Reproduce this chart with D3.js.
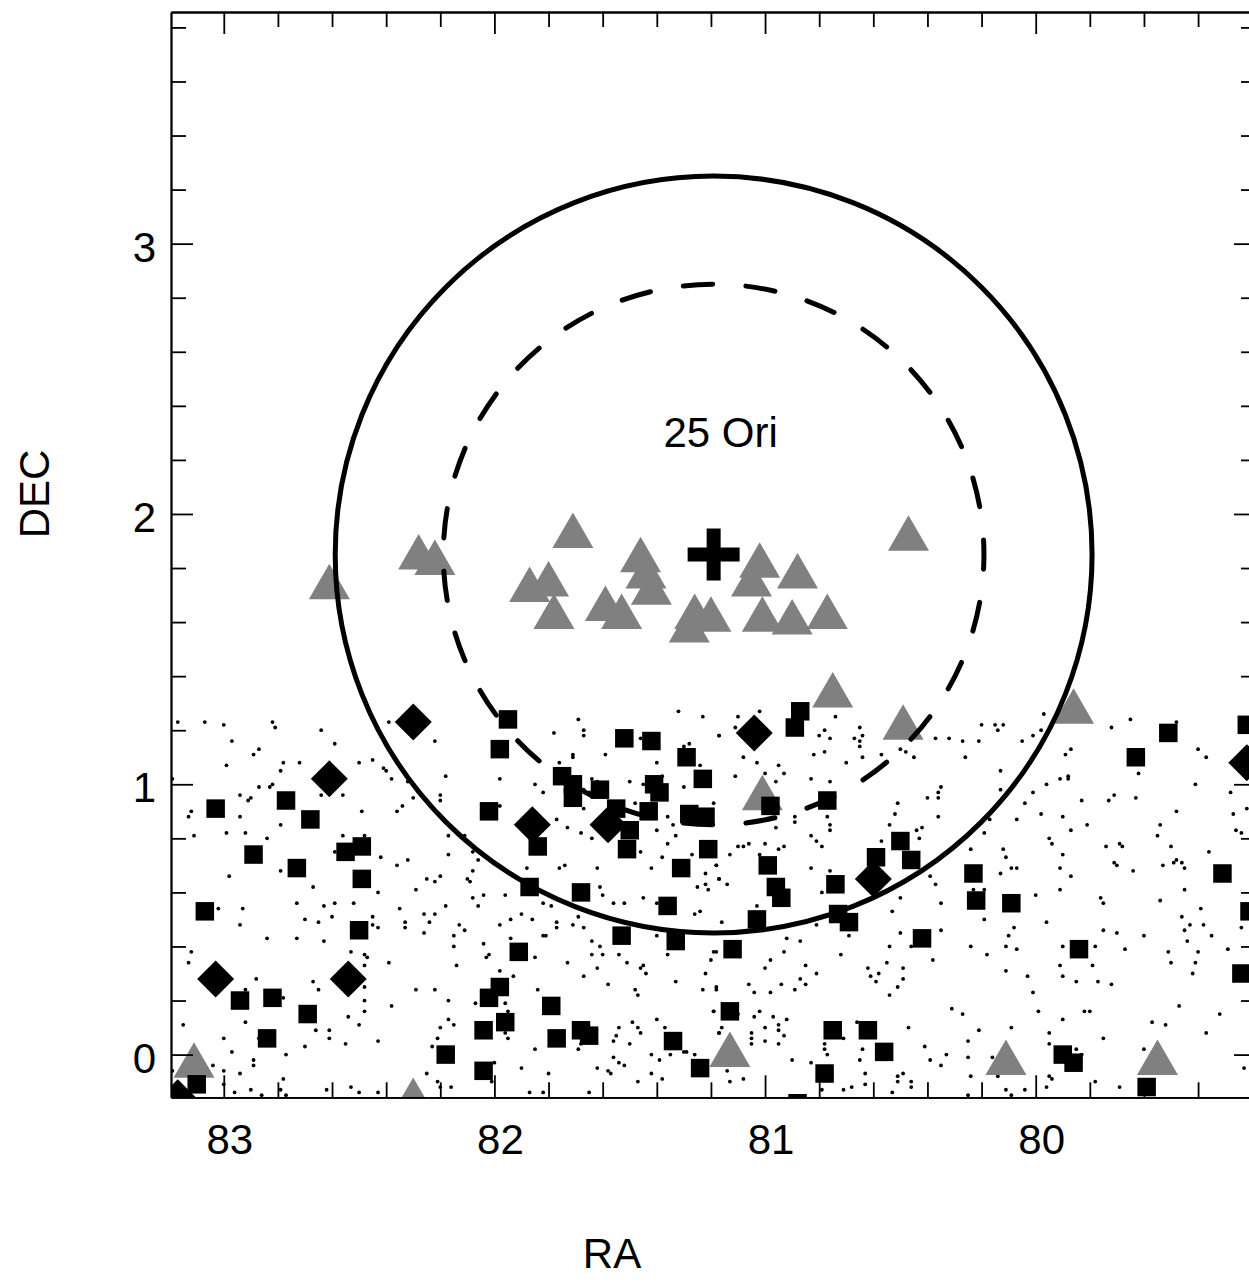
<!DOCTYPE html>
<html><head><meta charset="utf-8">
<script src="https://cdn.jsdelivr.net/npm/d3@7"></script>
<style>body{margin:0;background:#fff} text{font-family:"Liberation Sans",Arial,Helvetica,sans-serif;fill:#000}</style>
</head><body><svg id="c" width="1249" height="1286"></svg>
<script>
// ---- data (RA deg, DEC deg) ----
const xTickLabels = [83, 82, 81, 80];
const yTickLabels = [0, 1, 2, 3];
const xTitle = "RA";
const yTitle = "DEC";
const clusterName = "25 Ori";
const clusterCenter = [81.19, 1.85];
const circleRadii = [1.40, 1.00]; // solid, dashed (deg)

const dots = [
[83.17,1.23],[83.07,1.23],[83.00,1.22],[82.82,1.23],[82.81,1.21],[82.64,1.20],[82.97,1.16],[82.59,1.15],[82.87,1.13],[82.89,1.11],[82.99,1.07],[82.78,1.08],[82.72,1.08],[82.79,1.05],[82.50,1.08],[82.45,1.09],[82.41,1.06],[82.40,1.05],[82.38,1.02],[82.22,1.16],[82.18,1.03],[82.39,1.23],[82.32,1.01],[83.19,1.02],[82.87,0.99],[82.83,0.99],[82.82,1.00],[82.94,0.96],[82.90,0.95],[82.91,0.94],[82.64,0.96],[82.56,0.96],[83.12,0.90],[83.13,0.88],[82.94,0.88],[82.79,0.85],[82.49,0.90],[82.30,0.95],[82.34,0.92],[82.36,0.90],[82.20,0.96],[82.20,0.94],[82.99,0.82],[82.92,0.82],[83.11,0.81],[82.84,0.80],[82.56,0.81],[82.48,0.81],[82.17,0.81],[82.42,0.73],[82.36,0.70],[82.32,0.72],[82.17,0.74],[82.59,0.75],[82.98,0.66],[82.79,0.68],[82.67,0.62],[82.43,0.60],[82.29,0.61],[82.25,0.65],[82.22,0.64],[82.20,0.66],[82.73,0.56],[82.63,0.55],[82.59,0.56],[82.52,0.56],[83.02,0.54],[82.93,0.54],[82.35,0.54],[82.18,0.55],[82.70,0.50],[82.65,0.49],[82.60,0.51],[82.45,0.51],[82.45,0.48],[82.43,0.47],[82.33,0.49],[82.33,0.47],[82.26,0.52],[82.22,0.52],[82.24,0.49],[82.94,0.48],[82.84,0.43],[82.73,0.43],[82.63,0.42],[82.26,0.45],[83.12,0.38],[83.13,0.34],[82.53,0.38],[82.48,0.37],[82.47,0.36],[82.48,0.33],[82.39,0.34],[82.88,0.28],[82.92,0.24],[82.67,0.27],[82.65,0.24],[82.48,0.25],[82.48,0.20],[82.48,0.16],[82.29,0.24],[82.22,0.24],[82.17,0.20],[82.38,0.18],[83.15,0.11],[82.92,0.12],[82.78,0.21],[82.54,0.14],[82.50,0.11],[82.17,0.13],[82.20,0.10],[82.66,0.09],[82.61,0.09],[82.61,0.06],[83.00,0.06],[82.97,0.01],[82.87,0.06],[82.70,0.03],[82.55,0.04],[82.43,0.05],[82.21,0.06],[82.23,0.03],[82.77,0.00],[82.89,-0.02],[82.89,-0.04],[83.04,-0.04],[83.00,-0.06],[82.94,-0.07],[83.19,-0.06],[82.78,-0.09],[83.00,-0.11],[82.96,-0.14],[82.90,-0.13],[82.86,-0.15],[82.79,-0.13],[82.77,-0.15],[82.62,-0.13],[82.53,-0.12],[82.50,-0.14],[82.43,-0.14],[82.25,-0.07],[82.21,-0.10],[82.20,-0.12],[82.16,-0.12],
[81.69,1.24],[81.67,1.20],[81.67,1.18],[81.78,1.19],[81.59,1.11],[81.71,1.11],[81.71,1.10],[81.76,1.08],[81.32,1.27],[81.23,1.25],[81.17,1.18],[81.46,1.17],[81.30,1.14],[81.28,1.15],[81.40,1.08],[81.24,1.07],[81.98,1.02],[81.85,1.00],[81.82,0.97],[81.64,1.02],[81.62,1.01],[81.50,1.01],[81.45,1.00],[81.38,1.03],[81.30,0.99],[81.67,0.98],[81.65,0.97],[81.67,0.91],[81.19,0.93],[81.48,0.93],[81.98,0.92],[81.77,0.87],[81.73,0.84],[81.68,0.82],[81.64,0.80],[81.40,0.83],[81.36,0.88],[81.34,0.85],[81.33,0.81],[81.46,0.75],[81.36,0.78],[81.38,0.73],[81.27,0.74],[81.18,0.70],[81.17,0.65],[81.22,0.67],[82.11,0.81],[82.08,0.75],[82.06,0.72],[82.08,0.68],[82.10,0.65],[82.09,0.64],[81.96,0.59],[82.04,0.59],[82.08,0.58],[82.06,0.55],[81.88,0.69],[81.76,0.69],[81.74,0.70],[81.62,0.69],[81.42,0.69],[81.61,0.62],[81.60,0.59],[81.56,0.56],[81.52,0.56],[81.45,0.58],[81.40,0.56],[81.25,0.62],[81.22,0.63],[81.21,0.61],[81.26,0.52],[81.24,0.53],[81.82,0.56],[81.79,0.55],[81.90,0.52],[81.86,0.50],[81.94,0.50],[81.98,0.48],[81.77,0.49],[81.77,0.47],[81.71,0.48],[81.67,0.47],[81.69,0.51],[82.13,0.48],[82.11,0.46],[82.15,0.44],[82.15,0.40],[82.04,0.41],[81.94,0.43],[81.82,0.44],[81.81,0.44],[82.02,0.37],[82.03,0.36],[81.85,0.36],[81.73,0.34],[81.64,0.42],[81.61,0.40],[81.64,0.37],[81.60,0.37],[81.54,0.37],[81.51,0.34],[81.40,0.44],[81.36,0.37],[81.20,0.35],[81.18,0.38],[81.22,0.30],[81.62,0.32],[81.67,0.29],[81.46,0.32],[81.45,0.33],[81.44,0.30],[81.98,0.31],[81.93,0.29],[82.14,0.33],[81.84,0.24],[81.58,0.26],[81.48,0.24],[81.47,0.22],[81.33,0.27],[81.23,0.24],[81.18,0.25],[82.07,0.19],[81.96,0.19],[81.95,0.16],[81.19,0.16],[82.15,0.11],[81.96,0.08],[81.95,0.06],[81.68,0.04],[81.69,0.02],[81.85,0.02],[81.54,0.10],[81.49,0.12],[81.47,0.10],[81.46,0.08],[81.56,0.05],[81.55,0.07],[81.50,0.04],[81.40,0.13],[81.37,0.10],[81.17,0.08],[81.42,0.00],[81.39,-0.02],[81.35,0.00],[81.30,0.01],[81.29,0.01],[81.26,0.00],[81.56,-0.01],[81.54,-0.03],[81.52,-0.04],[81.62,-0.05],[81.58,-0.06],[81.57,-0.07],[81.90,-0.05],[81.80,-0.07],[82.00,-0.03],[82.01,-0.10],[81.47,-0.10],[81.42,-0.07],[81.38,-0.09],[81.87,-0.14],[81.82,-0.14],[81.65,-0.14],
[81.10,1.25],[81.02,1.27],[81.11,1.21],[81.17,1.18],[80.74,1.25],[80.80,1.18],[80.78,1.20],[80.76,1.17],[80.65,1.21],[80.64,1.18],[80.67,1.17],[80.65,1.14],[80.65,1.16],[80.64,1.10],[80.78,1.12],[80.82,1.11],[81.08,1.10],[81.03,1.08],[80.95,1.07],[80.93,1.04],[80.96,1.01],[81.00,1.04],[81.11,1.03],[80.83,1.02],[80.76,1.01],[80.70,1.08],[80.57,1.11],[80.50,1.13],[80.48,1.12],[80.45,1.10],[80.37,1.17],[80.32,1.17],[80.27,1.16],[80.21,1.16],[80.20,1.22],[80.26,1.10],[80.35,0.99],[80.36,0.97],[80.40,0.95],[80.36,0.95],[80.36,0.88],[80.51,0.93],[80.52,0.89],[80.54,0.85],[80.44,0.83],[80.42,0.84],[80.43,0.80],[80.57,0.79],[80.77,0.88],[80.76,0.85],[80.76,0.83],[80.89,0.88],[80.89,0.86],[80.96,0.84],[80.83,0.81],[80.81,0.79],[80.79,0.77],[81.10,0.77],[81.08,0.77],[81.06,0.78],[81.13,0.74],[81.00,0.78],[80.95,0.76],[80.93,0.77],[81.02,0.74],[81.18,0.70],[81.17,0.65],[81.14,0.63],[80.83,0.69],[80.76,0.68],[80.79,0.60],[81.03,0.55],[81.16,0.49],[80.81,0.48],[80.50,0.58],[80.53,0.53],[80.39,0.66],[80.37,0.63],[80.35,0.56],[80.19,0.82],[80.24,0.76],[80.23,0.61],[80.19,0.61],[80.19,0.50],[80.35,0.46],[80.50,0.45],[80.54,0.40],[80.46,0.40],[80.24,0.40],[80.18,0.37],[80.38,0.35],[80.69,0.44],[80.92,0.43],[80.87,0.42],[80.93,0.38],[81.19,0.38],[80.98,0.35],[81.00,0.32],[80.85,0.33],[80.81,0.30],[80.72,0.37],[80.62,0.32],[80.61,0.29],[80.59,0.27],[80.58,0.30],[80.55,0.34],[80.49,0.32],[80.49,0.28],[80.51,0.25],[80.54,0.22],[80.87,0.28],[80.85,0.26],[80.89,0.24],[80.94,0.26],[80.98,0.23],[81.04,0.23],[81.06,0.26],[81.18,0.24],[81.19,0.16],[81.10,0.15],[81.04,0.14],[81.02,0.16],[80.97,0.14],[80.95,0.11],[80.92,0.13],[80.93,0.07],[80.95,0.09],[81.00,0.10],[81.00,0.05],[80.95,0.04],[81.05,0.08],[81.05,0.06],[81.05,0.04],[81.17,0.08],[81.16,0.10],[80.90,-0.02],[80.83,-0.03],[80.78,0.04],[80.78,0.02],[80.77,0.00],[80.71,0.06],[80.66,0.12],[80.64,0.02],[80.65,-0.02],[80.63,-0.07],[80.63,-0.11],[80.68,-0.12],[80.71,-0.13],[80.79,-0.13],[81.14,-0.06],[81.13,-0.10],[81.08,-0.09],[80.51,-0.08],[80.49,-0.07],[80.51,-0.10],[80.46,-0.10],[80.46,-0.12],[80.53,-0.14],[80.47,0.10],[80.41,0.03],[80.39,-0.02],[80.35,-0.04],[80.33,0.00],[80.31,0.17],[80.27,0.15],[80.21,0.09],[80.25,0.05],[80.25,-0.01],[80.24,-0.08],[80.25,-0.15],
[80.15,1.22],[80.14,1.20],[80.12,1.22],[79.97,1.26],[80.05,1.16],[80.01,1.18],[79.98,1.20],[80.13,1.05],[80.13,0.98],[80.04,0.93],[80.01,0.97],[80.07,0.87],[80.17,0.87],[79.98,0.89],[79.90,0.88],[79.87,1.13],[79.89,1.11],[79.91,1.02],[79.88,1.03],[79.88,1.02],[79.96,1.00],[79.83,0.94],[79.73,0.94],[79.71,0.96],[79.63,0.95],[79.72,1.21],[79.65,1.24],[79.48,1.23],[79.62,1.04],[79.40,1.13],[79.37,1.10],[79.41,1.00],[79.28,0.97],[79.48,0.90],[79.27,0.89],[79.22,0.91],[79.26,0.83],[79.24,0.82],[79.87,0.83],[79.81,0.85],[79.95,0.80],[79.94,0.78],[79.90,0.74],[79.91,0.69],[79.87,0.66],[79.74,0.77],[79.69,0.78],[79.68,0.77],[79.71,0.71],[79.70,0.70],[79.64,0.68],[79.54,0.85],[79.55,0.81],[79.50,0.77],[79.48,0.72],[79.49,0.71],[79.46,0.71],[79.45,0.69],[79.53,0.70],[79.36,0.75],[80.12,0.76],[80.11,0.73],[80.09,0.69],[80.07,0.69],[80.13,0.67],[80.00,0.59],[79.91,0.61],[79.76,0.58],[79.75,0.56],[79.45,0.61],[79.54,0.57],[79.39,0.54],[79.46,0.51],[79.45,0.46],[79.43,0.48],[79.38,0.48],[79.35,0.44],[79.44,0.42],[79.40,0.38],[79.41,0.34],[79.42,0.30],[79.29,0.39],[79.24,0.47],[79.50,0.34],[79.51,0.38],[79.60,0.44],[79.67,0.39],[79.70,0.45],[79.75,0.46],[79.78,0.40],[79.79,0.33],[79.77,0.27],[79.72,0.26],[79.85,0.27],[79.90,0.29],[79.91,0.33],[79.90,0.40],[79.96,0.49],[80.08,0.47],[80.10,0.44],[80.11,0.40],[80.07,0.39],[80.11,0.31],[80.03,0.29],[80.01,0.23],[79.99,0.16],[79.90,0.13],[79.82,0.16],[79.80,0.16],[79.75,0.06],[79.95,0.08],[79.95,0.04],[80.09,0.10],[80.16,-0.01],[79.85,0.02],[79.83,0.00],[79.95,-0.08],[79.94,-0.09],[79.96,-0.12],[79.78,-0.10],[79.69,-0.12],[79.60,0.02],[79.57,0.12],[79.52,0.11],[79.47,0.18],[79.32,0.15],[79.37,0.08],[80.11,-0.13],[80.09,-0.15],[80.04,-0.13],[79.23,-0.05],[80.14,-0.08]
];

const squares = [
[83.03,0.91],[82.77,0.94],[82.68,0.87],[82.89,0.74],[82.55,0.75],[82.49,0.77],[82.73,0.69],[82.49,0.65],[83.07,0.53],[82.50,0.46],[82.94,0.20],[82.82,0.21],[82.69,0.15],[82.84,0.06],[83.10,-0.11],
[81.95,1.24],[81.98,1.13],[81.52,1.17],[81.42,1.16],[81.29,1.10],[81.23,1.02],[81.75,1.03],[81.71,1.00],[81.71,0.95],[81.61,0.98],[81.41,1.00],[81.39,0.97],[81.55,0.91],[81.50,0.83],[81.43,0.90],[81.51,0.76],[82.02,0.90],[81.84,0.77],[81.28,0.89],[81.22,0.88],[81.21,0.76],[81.31,0.69],[81.87,0.62],[81.68,0.60],[81.36,0.55],[81.53,0.44],[81.33,0.42],[81.91,0.38],[81.98,0.25],[82.02,0.21],[81.79,0.18],[81.96,0.12],[82.04,0.09],[81.77,0.06],[81.68,0.09],[81.65,0.07],[81.34,0.05],[82.18,0.00],[82.04,-0.06],[81.24,-0.05],
[80.87,1.27],[80.89,1.21],[80.98,0.92],[80.77,0.94],[80.99,0.70],[80.96,0.62],[80.94,0.58],[80.74,0.63],[80.59,0.73],[80.50,0.79],[80.46,0.72],[81.03,0.50],[80.73,0.52],[80.69,0.49],[81.12,0.39],[80.42,0.43],[80.23,0.67],[80.22,0.57],[81.13,0.16],[80.75,0.09],[80.62,0.09],[80.56,0.01],[80.78,-0.07],[80.88,-0.18],
[79.51,1.19],[79.63,1.10],[79.22,1.22],[79.31,0.67],[80.09,0.56],[79.84,0.39],[79.21,0.53],[79.24,0.30],[79.90,0.00],[79.86,-0.03],[79.59,-0.12]
];

const diamonds = [
[82.30,1.23],[82.61,1.02],[83.03,0.28],[82.54,0.28],[83.17,-0.16],[81.86,0.85],[81.58,0.85],[81.04,1.19],[80.60,0.65],[79.22,1.08]
];

const triangles = [
[82.61,1.75],[82.28,1.86],[82.22,1.84],[81.71,1.94],[81.87,1.74],[81.80,1.76],[81.78,1.64],[81.59,1.67],[81.53,1.64],[81.46,1.85],[81.44,1.79],[81.42,1.73],[81.26,1.64],[81.28,1.59],[81.20,1.63],[81.02,1.83],[81.05,1.76],[80.88,1.79],[81.01,1.63],[80.90,1.62],[80.77,1.64],[80.75,1.35],[80.47,1.93],[80.49,1.23],[79.86,1.29],[81.01,0.97],[83.11,-0.02],[82.30,-0.15],[81.13,0.02],[80.11,-0.01],[79.55,-0.01]
];

// ---- layout ----
const svg = d3.select("#c");
svg.append("rect").attr("width",1249).attr("height",1286).attr("fill","#fff");
const L=171, R=1256, T=12, B=1097.3;
const x = d3.scaleLinear().domain([83.195, 79.186]).range([L, R]);
const y = d3.scaleLinear().domain([-0.158, 3.857]).range([B, T]);

svg.append("defs").append("clipPath").attr("id","clip")
  .append("rect").attr("x",L).attr("y",T).attr("width",R-L).attr("height",B-T);
const g = svg.append("g").attr("clip-path","url(#clip)");

// dots
g.append("g").selectAll("circle").data(dots).join("circle")
  .attr("cx",d=>x(d[0])).attr("cy",d=>y(d[1])).attr("r",1.9).attr("fill","#000");

// triangles (grey)
const triSide=41, triH=35.5;
g.append("g").selectAll("path").data(triangles).join("path")
  .attr("d",d=>{const cx=x(d[0]),cy=y(d[1]);
    return `M${cx},${cy-triH/2}L${cx+triSide/2},${cy+triH/2}L${cx-triSide/2},${cy+triH/2}Z`;})
  .attr("fill","#808080");

// squares
const sq=18.5;
g.append("g").selectAll("rect").data(squares).join("rect")
  .attr("x",d=>x(d[0])-sq/2).attr("y",d=>y(d[1])-sq/2).attr("width",sq).attr("height",sq).attr("fill","#000");

// diamonds
const dd=18.5;
g.append("g").selectAll("path").data(diamonds).join("path")
  .attr("d",d=>{const cx=x(d[0]),cy=y(d[1]);
    return `M${cx},${cy-dd}L${cx+dd},${cy}L${cx},${cy+dd}L${cx-dd},${cy}Z`;})
  .attr("fill","#000");

// circles
const cx0=x(clusterCenter[0]), cy0=y(clusterCenter[1]);
const pxPerDeg = y(0)-y(1);
g.append("circle").attr("cx",cx0).attr("cy",cy0).attr("r",circleRadii[0]*pxPerDeg)
  .attr("fill","none").attr("stroke","#000").attr("stroke-width",5);
g.append("circle").attr("cx",cx0).attr("cy",cy0).attr("r",circleRadii[1]*pxPerDeg)
  .attr("fill","none").attr("stroke","#000").attr("stroke-width",5)
  .attr("pathLength",1728).attr("stroke-dasharray","30 34").attr("stroke-dashoffset",15)
  .attr("stroke-linecap","round");

// cross
const cl=52, cw=14;
g.append("rect").attr("x",cx0-cl/2).attr("y",cy0-cw/2).attr("width",cl).attr("height",cw).attr("fill","#000");
g.append("rect").attr("x",cx0-cw/2).attr("y",cy0-cl/2).attr("width",cw).attr("height",cl).attr("fill","#000");

// cluster label
svg.append("text").attr("x",x(clusterCenter[0])+7).attr("y",y(clusterCenter[1]+0.4)+0.5)
  .attr("text-anchor","middle").attr("font-size",42).text(clusterName);

// ---- axes ----
const minorX = d3.range(79.2, 83.01, 0.2).filter(v=>Math.abs(v-Math.round(v))>0.01);
const minorY = d3.range(0.2, 3.81, 0.2).filter(v=>Math.abs(v-Math.round(v))>0.01);
const MAJ=22, MIN=15;
function styleAxis(sel){ sel.selectAll("path,line").attr("stroke","#000").attr("stroke-width",1.8); sel.selectAll("text").remove(); }
const ax = svg.append("g");
ax.append("g").attr("transform",`translate(0,${B})`).call(d3.axisBottom(x).tickValues(xTickLabels).tickSize(-MAJ).tickSizeOuter(0).tickFormat("")).call(styleAxis);
ax.append("g").attr("transform",`translate(0,${B})`).call(d3.axisBottom(x).tickValues(minorX).tickSize(-MIN).tickSizeOuter(0).tickFormat("")).call(styleAxis);
ax.append("g").attr("transform",`translate(0,${T})`).call(d3.axisTop(x).tickValues(xTickLabels).tickSize(-MAJ).tickSizeOuter(0).tickFormat("")).call(styleAxis);
ax.append("g").attr("transform",`translate(0,${T})`).call(d3.axisTop(x).tickValues(minorX).tickSize(-MIN).tickSizeOuter(0).tickFormat("")).call(styleAxis);
ax.append("g").attr("transform",`translate(${L},0)`).call(d3.axisLeft(y).tickValues(yTickLabels).tickSize(-MAJ).tickSizeOuter(0).tickFormat("")).call(styleAxis);
ax.append("g").attr("transform",`translate(${L},0)`).call(d3.axisLeft(y).tickValues(minorY).tickSize(-MIN).tickSizeOuter(0).tickFormat("")).call(styleAxis);
ax.append("g").attr("transform",`translate(${R},0)`).call(d3.axisRight(y).tickValues(yTickLabels).tickSize(-MAJ).tickSizeOuter(0).tickFormat("")).call(styleAxis);
ax.append("g").attr("transform",`translate(${R},0)`).call(d3.axisRight(y).tickValues(minorY).tickSize(-MIN).tickSizeOuter(0).tickFormat("")).call(styleAxis);

// tick labels
svg.append("g").selectAll("text").data(xTickLabels).join("text")
  .attr("x",d=>x(d)+6).attr("y",1154).attr("text-anchor","middle").attr("font-size",42).text(d=>d);
svg.append("g").selectAll("text").data(yTickLabels).join("text")
  .attr("x",156).attr("y",d=>y(d)+18).attr("text-anchor","end").attr("font-size",42).text(d=>d);

// titles
svg.append("text").attr("x",612).attr("y",1268).attr("text-anchor","middle").attr("font-size",42).text(xTitle);
svg.append("text").attr("transform","translate(49,494) rotate(-90)").attr("text-anchor","middle").attr("font-size",42).text(yTitle);
</script></body></html>
